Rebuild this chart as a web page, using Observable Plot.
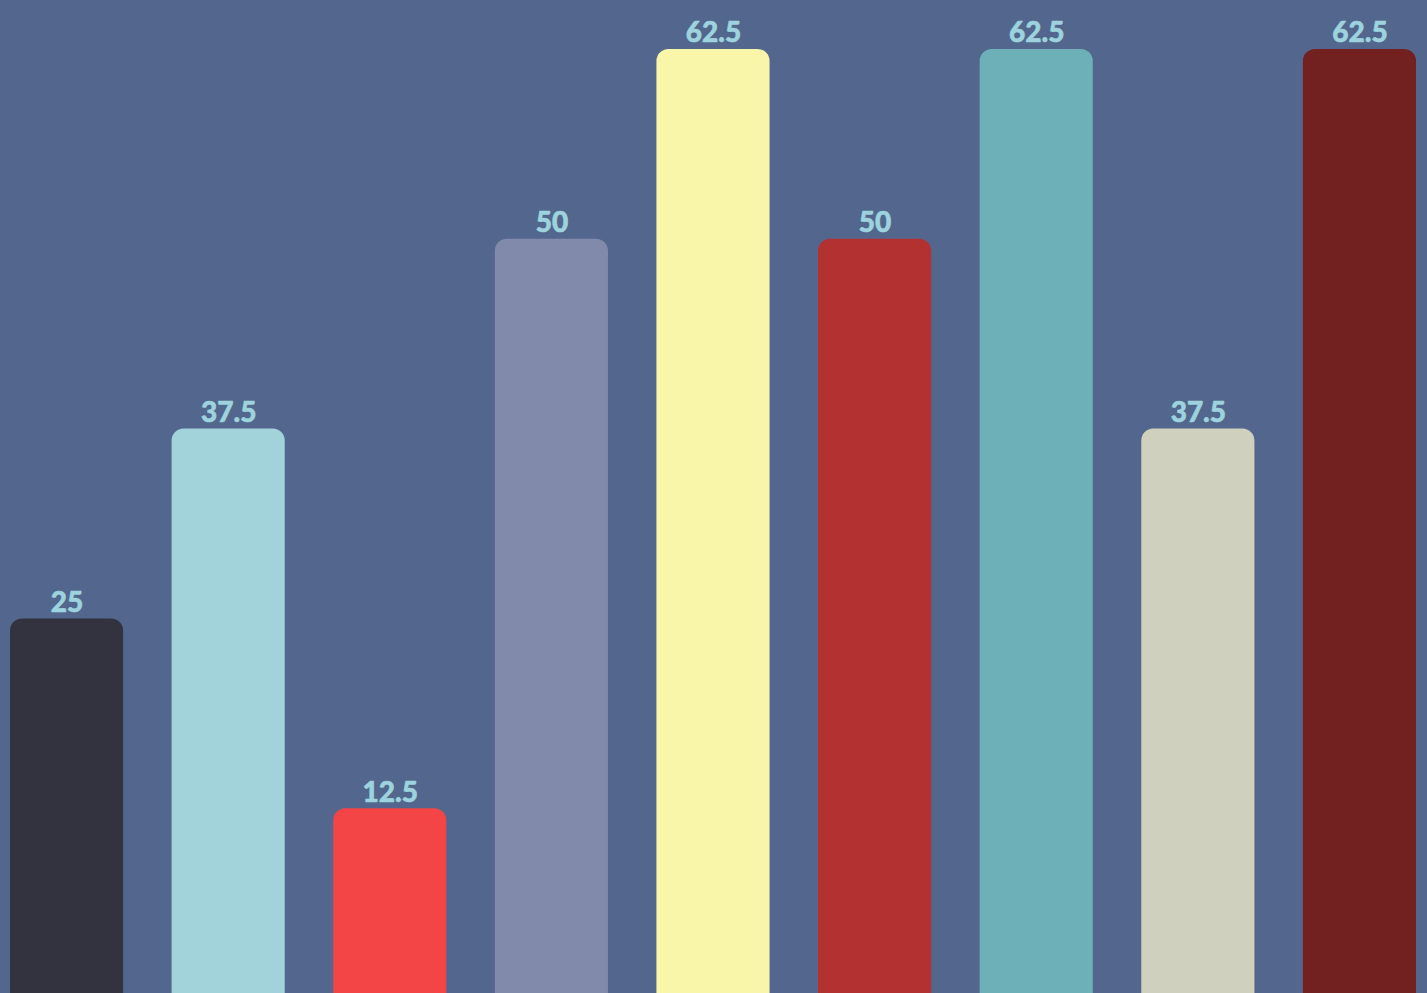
<!DOCTYPE html>
<html>
<head>
<meta charset="utf-8">
<script src="https://cdn.jsdelivr.net/npm/d3@7"></script>
<script src="https://cdn.jsdelivr.net/npm/@observablehq/plot@0.6"></script>
<style>
html, body { margin: 0; padding: 0; background: #53678e; overflow: hidden; }
#chart svg { display: block; }
</style>
</head>
<body>
<div id="chart"></div>
<script>
const categories = ["A", "B", "C", "D", "E", "F", "G", "H", "I"];
const values = [25, 37.5, 12.5, 50, 62.5, 50, 62.5, 37.5, 62.5];
const colors = ["#32333f", "#a2d3da", "#f34545", "#818aab", "#faf6a9", "#b33131", "#6eb0b8", "#d0d0be", "#722020"];

const data = categories.map((c, i) => ({category: c, value: values[i], color: colors[i]}));

const chart = Plot.plot({
  width: 1427,
  height: 993,
  marginTop: 0,
  marginBottom: 0,
  marginLeft: 10,
  marginRight: 11,
  style: {background: "#53678e", fontFamily: "Lato, 'Open Sans', sans-serif"},
  x: {domain: categories, padding: 0.3, paddingOuter: 0, round: false, axis: null},
  y: {domain: [0, 62.5], range: [998, 49], axis: null},
  marks: [
    Plot.barY(data, {x: "category", y: "value", fill: "color", ry1: 12, rx: 12}),
    Plot.text(data, {x: "category", y: "value", text: d => String(d.value), dy: -16, fill: "#9dd3dc", fontSize: 28, fontWeight: 900, stroke: "#9dd3dc", strokeWidth: 0.6})
  ]
});
document.getElementById("chart").appendChild(chart);
</script>
</body>
</html>
